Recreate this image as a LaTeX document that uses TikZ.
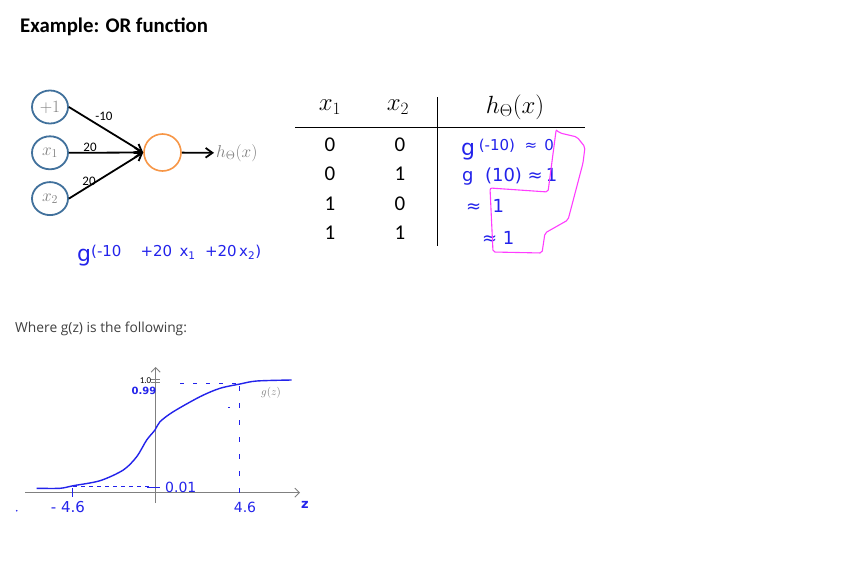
\documentclass[tikz,border=0pt]{standalone}
\usepackage{fontspec}
\setmainfont{Carlito}
\newfontfamily\bodyfont{Open Sans}
\newfontfamily\handfont{DejaVu Sans}
\usepackage{xcolor}
\usetikzlibrary{arrows.meta,positioning,shapes.geometric}

\definecolor{unitblue}{RGB}{65,113,156}
\definecolor{unitorange}{RGB}{247,150,70}
\definecolor{penblue}{RGB}{35,35,235}
\definecolor{penpink}{RGB}{255,60,255}
\definecolor{textgray}{RGB}{64,64,64}

\begin{document}
\begin{tikzpicture}[
    x=1pt, y=-1pt,
    input/.style={draw=unitblue, line width=1.8pt, ellipse, minimum width=36pt, minimum height=33pt, inner sep=0pt, text=gray, font=\fontsize{17}{17}\selectfont},
    neuron/.style={draw=unitorange, line width=1.6pt, circle, minimum size=37pt, inner sep=0pt},
    arrow/.style={-{Straight Barb[length=2.4mm, width=3.4mm]}, line width=1.8pt},
    weight/.style={font=\fontsize{13}{13}\selectfont, inner sep=0pt},
    cell/.style={font=\fontsize{21}{21}\selectfont, inner sep=0pt},
    head/.style={font=\fontsize{24}{24}\selectfont, inner sep=0pt},
    pen/.style={text=penblue, font=\handfont\fontsize{18}{18}\selectfont, inner sep=0pt},
    axis/.style={draw=gray, line width=0.9pt, -{Straight Barb[length=1.6mm]}}
  ]
    \useasboundingbox[fill=white] (0,0) rectangle (844,560);

    % title and text
    \node[anchor=base west, inner sep=0pt, font=\bfseries\fontsize{20.8}{20.8}\selectfont] (title) at (20,32) {Example: OR function};
    \node[anchor=base west, inner sep=0pt, text=textgray, font=\bodyfont\fontsize{13.8}{13.8}\selectfont] (where) at (15,332) {Where g(z) is the following:};

    % network
    \node[input] (bias) at (50,107) {$+1$};
    \node[input, below=11pt of bias] (xone) {$x_1$};
    \node[input, below=11pt of xone] (xtwo) {$x_2$};
    \node[neuron] (unit) at (162.5,152.5) {};
    \node[anchor=west, inner sep=2pt, text=gray, font=\fontsize{18}{18}\selectfont] (hout) at (214,153) {$h_\Theta(x)$};
    \draw[arrow] (bias.east) -- (unit.west);
    \draw[arrow] (xone.east) -- (unit.west);
    \draw[arrow] (xtwo.east) -- (unit.west);
    \draw[arrow] (unit) -- (hout);
    \node[weight] (wbias) at (104,116) {-10};
    \node[weight] (wone) at (90,147) {20};
    \node[weight] (wtwo) at (89,181) {20};

    % truth table
    \node[head] (hone) at (330,107) {$x_1$};
    \node[head] (htwo) at (398,107) {$x_2$};
    \node[head] (hth) at (515,107) {$h_\Theta(x)$};
    \draw[line width=0.8pt] (295,127) -- (585,127);
    \draw[line width=0.8pt] (437,97) -- (437,246);
    \foreach \a/\b/\r [count=\i] in {0/0/145, 0/1/174, 1/0/204, 1/1/233}{
      \node[cell] (ra\i) at (330,\r) {\a};
      \node[cell] (rb\i) at (400,\r) {\b};
    }

    % pen notes
    \node[pen, anchor=west, font=\handfont\fontsize{22}{22}\selectfont] (nzero) at (461,150) {g\,\raisebox{5pt}{\fontsize{15}{15}\selectfont(-10)\ \ ≈\ \,0}};
    \node[pen, anchor=west] (none) at (462,177) {g\ \ (10)\ ≈\,1};
    \node[pen, anchor=west] (nthree) at (466,206) {≈\ \ 1};
    \node[pen, anchor=west] (nfour) at (482,238) {≈\ 1};
    \draw[penpink, line width=1.1pt, rounded corners=2pt]
      (556,131) -- (548,192) -- (490,188) -- (493,252) -- (542,253) -- (545,233)
      -- (568,220) -- (583,163) -- (585,147) -- (577,137) -- (560,133) -- (556,130);
    \node[pen, anchor=west, font=\handfont\fontsize{22}{22}\selectfont] (gsum) at (77,256) {g\raisebox{5pt}{\fontsize{15}{15}\selectfont(-10\ \ \ \ +20\ \,x\textsubscript{1}\ \ +20\,x\textsubscript{2})}};

    % sigmoid sketch
    \draw[axis] (25,492.7) -- (300,492.7);
    \draw[axis] (155.7,503) -- (155.7,367);
    \draw[gray, line width=0.7pt] (151,379.5) -- (160,379.5) (151,382.5) -- (160,382.5);
    \node[anchor=east, inner sep=0.5pt, font=\fontsize{9}{9}\selectfont] (lone) at (152,380.5) {1.0};
    \node[pen, font=\handfont\bfseries\fontsize{10}{10}\selectfont] (lnn) at (144,391) {0.99};
    \draw[penblue, line width=1.4pt] plot[smooth] coordinates {
      (36.7,488.3) (60,488.3) (73.3,485.7) (100,480.7) (123.3,470) (136.7,456.7)
      (146.7,440) (155,430) (160,421.7) (173.3,411.7) (200,396.7) (220,388.3)
      (240,384) (256.7,381) (291.7,380)};
    \draw[penblue, dash pattern=on 4pt off 4pt, line width=1pt] (73,486.7) -- (150,486.7);
    \draw[penblue, line width=1.4pt] (147,487.5) -- (160,487.5);
    \draw[penblue, dash pattern=on 4pt off 9pt, line width=1pt] (180,383.5) -- (238,383.5);
    \draw[penblue, dash pattern=on 5pt off 12pt, line width=1pt] (239.3,386) -- (239.3,497);
    \draw[penblue, line width=1pt] (72.7,488) -- (72.7,497);
    \draw[penblue, line width=1pt] (228,407) -- (230,407);
    \node[pen, anchor=west, font=\handfont\fontsize{14}{14}\selectfont] (lsmall) at (165,487) {0.01};
    \node[pen, font=\handfont\fontsize{15}{15}\selectfont] (lminus) at (68,507) {-\ 4.6};
    \node[pen, font=\handfont\fontsize{14}{14}\selectfont] (lplus) at (245,507) {4.6};
    \node[pen, font=\handfont\bfseries\fontsize{13}{13}\selectfont] (lz) at (305,505) {z};
    \fill[penblue] (16.7,510.7) circle (0.9pt);
    \node[text=gray, font=\fontsize{11}{11}\selectfont, inner sep=0pt] (gz) at (271,393) {$g(z)$};
  \end{tikzpicture}
\end{document}
